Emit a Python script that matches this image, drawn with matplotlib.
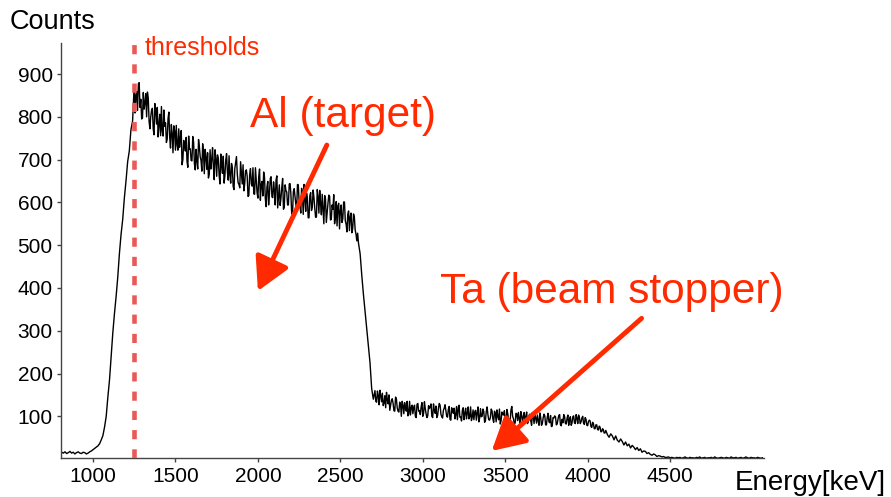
import matplotlib
matplotlib.use("Agg")
import matplotlib.pyplot as plt
import numpy as np

plt.rcParams['font.family'] = ['Liberation Sans', 'DejaVu Sans']

# ---- data ----
# each segment: first bin energy (keV), bin width (keV), counts
baseline_start, baseline_width = 810, 10
counts_baseline = [16, 14, 17, 13, 15, 18, 14, 16, 12, 15, 17, 14, 13, 16, 15, 12, 14, 17, 19]

rise_start, rise_width = 1000, 10
counts_rise = [22, 25, 28, 31, 36, 45, 55, 75, 100, 145, 185, 240, 295, 340, 380, 425, 480,
               525, 560, 610, 650, 695, 720, 770, 790]

al_start, al_width = 1250, 5
counts_al = [875, 809, 850, 859, 815, 877, 880, 822, 841, 795,
             797, 857, 818, 833, 854, 800, 858, 844, 790, 772,
             800, 815, 820, 772, 758, 831, 817, 783, 822, 753,
             782, 806, 756, 824, 767, 755, 816, 778, 786, 740,
             748, 796, 811, 752, 727, 782, 761, 716, 779, 767,
             722, 780, 735, 722, 772, 729, 750, 768, 688, 700,
             745, 734, 720, 752, 696, 682, 755, 724, 725, 698,
             697, 754, 741, 690, 676, 724, 697, 678, 747, 730,
             707, 698, 673, 737, 716, 667, 724, 707, 677, 716,
             657, 666, 723, 678, 701, 728, 684, 653, 723, 703,
             661, 711, 702, 663, 643, 713, 686, 668, 708, 645,
             663, 699, 714, 671, 652, 709, 664, 645, 691, 681,
             637, 630, 679, 693, 707, 667, 646, 642, 634, 695,
             668, 643, 688, 627, 644, 674, 676, 661, 614, 616,
             665, 679, 643, 638, 681, 620, 619, 681, 652, 623,
             610, 660, 678, 605, 642, 649, 615, 671, 659, 609,
             590, 636, 649, 594, 621, 656, 660, 613, 611, 648,
             628, 594, 652, 662, 587, 614, 641, 593, 610, 636,
             656, 584, 589, 641, 628, 624, 594, 594, 643, 644,
             620, 573, 573, 625, 632, 613, 596, 583, 642, 641,
             601, 594, 575, 633, 622, 572, 642, 608, 579, 622,
             610, 564, 564, 616, 623, 581, 589, 629, 611, 586,
             565, 566, 630, 614, 575, 628, 597, 571, 619, 584,
             550, 616, 608, 553, 577, 598, 617, 614, 559, 560,
             594, 584, 618, 550, 564, 602, 545, 592, 598, 538,
             580, 594, 553, 562, 601, 601, 557, 549, 531, 572,
             580, 534, 566, 575, 529, 539, 573, 566, 535, 526,
             510, 528]

edge_start, edge_width = 2610, 10
counts_edge = [505, 480, 430, 385, 345, 305, 265, 225, 165, 140]

ta_start, ta_width = 2710, 5
counts_ta = [160, 135, 133, 159, 149, 127, 161, 149, 134, 154,
             125, 131, 148, 120, 156, 139, 129, 150, 114, 126,
             138, 141, 130, 113, 112, 145, 140, 120, 112, 110,
             133, 129, 100, 135, 125, 106, 132, 120, 112, 135,
             101, 109, 135, 103, 120, 126, 106, 121, 126, 100,
             97, 128, 130, 112, 113, 104, 122, 132, 100, 107,
             134, 118, 106, 97, 101, 125, 118, 122, 129, 100,
             97, 129, 114, 107, 124, 97, 102, 119, 130, 126,
             105, 99, 96, 114, 119, 127, 113, 100, 98, 116,
             123, 93, 91, 120, 115, 107, 119, 94, 104, 123,
             92, 116, 126, 98, 98, 89, 114, 120, 92, 107,
             119, 94, 107, 122, 94, 99, 122, 90, 98, 115,
             92, 110, 114, 91, 108, 122, 87, 96, 118, 99,
             100, 117, 111, 86, 90, 111, 122, 104, 92, 91,
             97, 117, 113, 94, 86, 112, 107, 87, 115, 99,
             92, 117, 82, 90, 110, 104, 103, 113, 88, 84,
             116, 107, 93, 87, 89, 115, 123, 100, 94, 83,
             84, 107, 106, 90, 109, 94, 81, 111, 102, 87,
             99, 109, 84, 99, 110, 83, 88, 103, 105, 89,
             79, 109, 100, 83, 107, 96, 84, 103, 90, 79,
             108, 98, 79, 83, 96, 105, 101, 80, 80, 98,
             107, 87, 85, 102, 76, 77, 97, 96, 101, 99,
             80, 82, 93, 102, 104, 80, 78, 93, 85, 104,
             100, 83, 82, 95, 103, 79, 92, 99, 79, 84,
             99, 101, 85, 83, 104, 96, 83, 103, 97, 83,
             87, 96, 100, 84, 81, 97, 93, 79, 78, 88,
             91, 89, 76, 74, 86, 83, 71, 71, 80, 80,
             69, 68, 77, 75, 64, 64, 71, 69, 61, 61]

fall_start, fall_width = 4110, 10
counts_fall = [67, 57, 51, 59, 54, 45, 54, 44, 40, 47, 41, 33, 40, 31, 35, 26, 32, 28, 22, 27,
               20, 24, 16, 19, 18, 13, 15, 11, 9, 12, 10, 6, 8, 7, 5, 6, 4, 4, 5, 3,
               4, 3, 2, 4]

tail_start, tail_width = 4550, 10
counts_tail = [3, 4, 2, 3, 5, 3, 2, 4, 3, 3, 2, 4, 3, 5, 2, 3, 4, 2, 3, 3, 4, 2, 5, 3, 2, 3,
               4, 3, 2, 4, 3, 2, 5, 3, 3, 4, 2, 3, 4, 2, 3, 5, 3, 2, 4, 3, 3, 2, 4, 3, 2, 3]

segments = [(baseline_start, baseline_width, counts_baseline),
            (rise_start, rise_width, counts_rise),
            (al_start, al_width, counts_al),
            (edge_start, edge_width, counts_edge),
            (ta_start, ta_width, counts_ta),
            (fall_start, fall_width, counts_fall),
            (tail_start, tail_width, counts_tail)]
energy = np.concatenate([s + w * np.arange(len(c)) for s, w, c in segments])
counts = np.concatenate([np.asarray(c, dtype=float) for _, _, c in segments])

threshold_keV = 1250
x_ticks = [1000, 1500, 2000, 2500, 3000, 3500, 4000, 4500]
y_ticks = [100, 200, 300, 400, 500, 600, 700, 800, 900]

RED = '#ff2a00'
DASH_RED = '#ea5858'

fig = plt.figure(figsize=(8.91, 4.97), dpi=100)
ax = fig.add_axes([0.0685, 0.078, 0.7885, 0.835])

ax.plot(energy, counts, color='black', lw=1.0)

ax.set_xlim(806, 5067)
ax.set_ylim(2, 972)

ax.axvline(threshold_keV, color=DASH_RED, lw=3.3, linestyle=(0, (2.0, 2.2)),
           dash_capstyle='butt', zorder=3)

for s in ['top', 'right']:
    ax.spines[s].set_visible(False)
for s in ['left', 'bottom']:
    ax.spines[s].set_color('#444444')
    ax.spines[s].set_linewidth(1.0)

ax.set_xticks(x_ticks)
ax.set_yticks(y_ticks)
ax.tick_params(axis='both', labelsize=15, colors='#444444', labelcolor='black',
               length=3, width=1.0)
ax.tick_params(axis='y', pad=3)
ax.tick_params(axis='x', pad=3.5)

fig.text(10 / 891, 1 - 22 / 497, 'Counts', fontsize=19.5, ha='left', va='center')
fig.text(735 / 891, 7 / 497, 'Energy[keV]', fontsize=20, ha='left', va='baseline')

ax.text(1315, 960, 'thresholds', color=RED, fontsize=18, ha='left', va='center')
ax.text(1952, 776, 'Al (target)', color=RED, fontsize=30.5, ha='left', va='baseline')
ax.text(3103, 364, 'Ta (beam stopper)', color=RED, fontsize=30.5, ha='left', va='baseline')

arrow_kw = dict(arrowstyle='-|>,head_length=1.0,head_width=0.55', color=RED, lw=3.5,
                shrinkA=0, shrinkB=0, mutation_scale=20)
ax.annotate('', xy=(2000, 393), xytext=(2418, 734), arrowprops=arrow_kw, annotation_clip=False)
ax.annotate('', xy=(3418, 19), xytext=(4327, 329), arrowprops=arrow_kw, annotation_clip=False)

fig.savefig('out.png', dpi=100)
